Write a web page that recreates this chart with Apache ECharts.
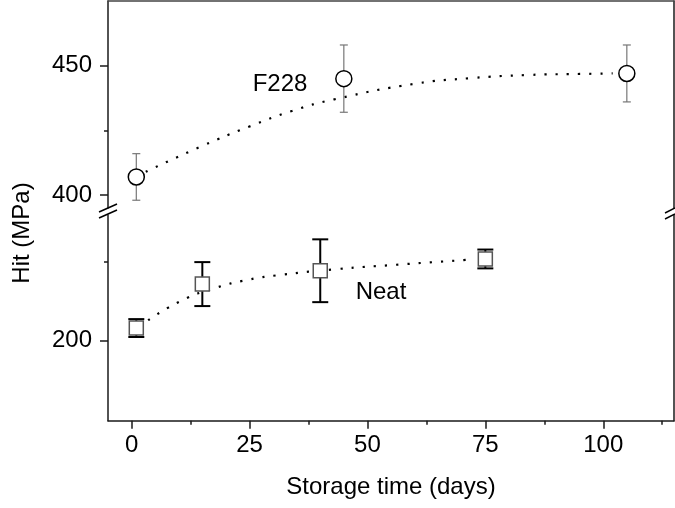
<!DOCTYPE html>
<html>
  <head>
    <meta charset="utf-8" />
    <title>Hit vs storage time</title>
    <script src="https://cdn.jsdelivr.net/npm/echarts@6.0.0/dist/echarts.min.js"></script>
  </head>
  <body style="margin:0;background:#fff;">
    <div id="main" style="width: 675px;height:508px;"></div>
    <script type="text/javascript">
      var f228Days = [1, 45, 105];
      var f228Mean = [407, 445, 447];
      var f228Err = [9, 13, 11];

      var neatDays = [1, 15, 40, 75];
      var neatMean = [208, 236, 244.5, 252];
      var neatErr = [5.7, 14, 20, 6];

      // dotted trend lines
      var f228FitDays = [3, 15, 25, 34, 43, 60, 72, 84, 95, 102];
      var f228FitVals = [409, 419, 426.5, 432.5, 437, 443, 445.2, 446.4, 446.8, 447];
      var neatFitDays = [3.5, 10.6, 17.6, 24.6, 31.7, 43.3, 56, 71.5];
      var neatFitVals = [213, 225.5, 233.4, 238.7, 241.9, 245.5, 248.3, 251.5];

      // tick labels
      var xMajor = [0, 25, 50, 75, 100];
      var xMinor = [12.5, 37.5, 62.5, 87.5, 112.5];
      var yTopMajor = [400, 450];
      var yTopMinor = [425];
      var yBotMajor = [200];
      var yBotMinor = [250];

      var chartDom = document.getElementById('main');
      var myChart = echarts.init(chartDom);
      var option;

      var FONT = 'Liberation Sans, Arial, sans-serif';
      var AX = '#1a1a1a';

      function pairs(xs, ys) {
        return xs.map(function (x, i) { return [x, ys[i]]; });
      }
      function errData(xs, m, e) {
        return xs.map(function (x, i) { return [x, m[i] - e[i], m[i] + e[i]]; });
      }

      function errorBar(color, width, capHalf) {
        return function (params, api) {
          var x = api.value(0);
          var lo = api.coord([x, api.value(1)]);
          var hi = api.coord([x, api.value(2)]);
          var style = { stroke: color, lineWidth: width, fill: null };
          return {
            type: 'group',
            children: [
              { type: 'line', shape: { x1: lo[0], y1: lo[1], x2: hi[0], y2: hi[1] }, style: style },
              { type: 'line', shape: { x1: lo[0] - capHalf, y1: lo[1], x2: lo[0] + capHalf, y2: lo[1] }, style: style },
              { type: 'line', shape: { x1: hi[0] - capHalf, y1: hi[1], x2: hi[0] + capHalf, y2: hi[1] }, style: style }
            ]
          };
        };
      }

      function lineOnly(grid, pos, min, max, color) {
        return {
          gridIndex: grid, type: 'value', position: pos, min: min, max: max,
          axisLine: { show: true, onZero: false, lineStyle: { color: color || AX, width: 1.5 } },
          axisTick: { show: false }, axisLabel: { show: false }, splitLine: { show: false }
        };
      }
      function minorAxis(grid, pos, min, max, vals, len) {
        return {
          gridIndex: grid, type: 'value', position: pos, min: min, max: max,
          axisLine: { show: false, onZero: false },
          axisTick: { show: true, length: len, customValues: vals, lineStyle: { color: AX, width: 1.5 } },
          axisLabel: { show: false }, splitLine: { show: false }
        };
      }
      function majorAxis(grid, pos, min, max, vals, margin) {
        return {
          gridIndex: grid, type: 'value', position: pos, min: min, max: max,
          axisLine: { show: true, onZero: false, lineStyle: { color: AX, width: 1.5 } },
          axisTick: { show: true, length: 8, customValues: vals, lineStyle: { color: AX, width: 1.5 } },
          axisLabel: { show: true, customValues: vals, fontSize: 24, fontFamily: FONT, color: '#000', margin: margin },
          splitLine: { show: false }
        };
      }

      var xBottom = majorAxis(1, 'bottom', -5, 115, xMajor, 13);
      xBottom.name = 'Storage time (days)';
      xBottom.nameLocation = 'middle';
      xBottom.nameGap = 55;
      xBottom.nameTextStyle = { fontSize: 24, fontFamily: FONT, color: '#000' };

      option = {
        animation: false,
        backgroundColor: '#fff',
        grid: [
          { left: 108, right: 1, top: 1, height: 207 },
          { left: 108, right: 1, top: 215, bottom: 87.3 }
        ],
        xAxis: [
          lineOnly(0, 'top', -5, 115, '#444'),
          xBottom,
          minorAxis(1, 'bottom', -5, 115, xMinor, 4)
        ],
        yAxis: [
          majorAxis(0, 'left', 395, 475, yTopMajor, 16),
          minorAxis(0, 'left', 395, 475, yTopMinor, 4),
          lineOnly(0, 'right', 395, 475),
          majorAxis(1, 'left', 149, 280, yBotMajor, 16),
          minorAxis(1, 'left', 149, 280, yBotMinor, 4),
          lineOnly(1, 'right', 149, 280)
        ],
        graphic: [
          {
            type: 'text', x: 22, y: 233, rotation: Math.PI / 2,
            style: { text: 'Hit (MPa)', fontSize: 24, fontFamily: FONT, fill: '#000', align: 'center', verticalAlign: 'middle' }
          },
          {
            type: 'text', x: 280, y: 84,
            style: { text: 'F228', fontSize: 24, fontFamily: FONT, fill: '#000', align: 'center', verticalAlign: 'middle' }
          },
          {
            type: 'text', x: 381, y: 292,
            style: { text: 'Neat', fontSize: 24, fontFamily: FONT, fill: '#000', align: 'center', verticalAlign: 'middle' }
          },
          // axis break marks
          { type: 'line', shape: { x1: 99, y1: 212, x2: 117, y2: 204 }, style: { stroke: '#000', lineWidth: 1.5 }, z: 100 },
          { type: 'line', shape: { x1: 99, y1: 218, x2: 117, y2: 210 }, style: { stroke: '#000', lineWidth: 1.5 }, z: 100 },
          { type: 'line', shape: { x1: 665, y1: 213, x2: 675, y2: 208 }, style: { stroke: '#000', lineWidth: 1.5 }, z: 100 },
          { type: 'line', shape: { x1: 665, y1: 219, x2: 675, y2: 214 }, style: { stroke: '#000', lineWidth: 1.5 }, z: 100 }
        ],
        series: [
          {
            name: 'F228 fit', type: 'line', xAxisIndex: 0, yAxisIndex: 0,
            smooth: true, showSymbol: false, data: pairs(f228FitDays, f228FitVals),
            lineStyle: { color: '#000', width: 2.2, type: [2.2, 9] }, z: 2
          },
          {
            name: 'Neat fit', type: 'line', xAxisIndex: 1, yAxisIndex: 3,
            smooth: true, showSymbol: false, data: pairs(neatFitDays, neatFitVals),
            lineStyle: { color: '#000', width: 2.2, type: [2.2, 9] }, z: 2
          },
          {
            name: 'F228 err', type: 'custom', xAxisIndex: 0, yAxisIndex: 0,
            renderItem: errorBar('#777', 1.2, 4), data: errData(f228Days, f228Mean, f228Err), z: 3
          },
          {
            name: 'Neat err', type: 'custom', xAxisIndex: 1, yAxisIndex: 3,
            renderItem: errorBar('#000', 2, 8), data: errData(neatDays, neatMean, neatErr), z: 3
          },
          {
            name: 'F228', type: 'scatter', xAxisIndex: 0, yAxisIndex: 0,
            symbol: 'circle', symbolSize: 16, data: pairs(f228Days, f228Mean),
            itemStyle: { color: '#fff', borderColor: '#000', borderWidth: 1.5, opacity: 1 }, z: 5
          },
          {
            name: 'Neat', type: 'scatter', xAxisIndex: 1, yAxisIndex: 3,
            symbol: 'rect', symbolSize: 14, data: pairs(neatDays, neatMean),
            itemStyle: { color: '#fff', borderColor: '#555', borderWidth: 1.5, opacity: 1 }, z: 5
          }
        ]
      };

      option && myChart.setOption(option);
    </script>
  </body>
</html>
